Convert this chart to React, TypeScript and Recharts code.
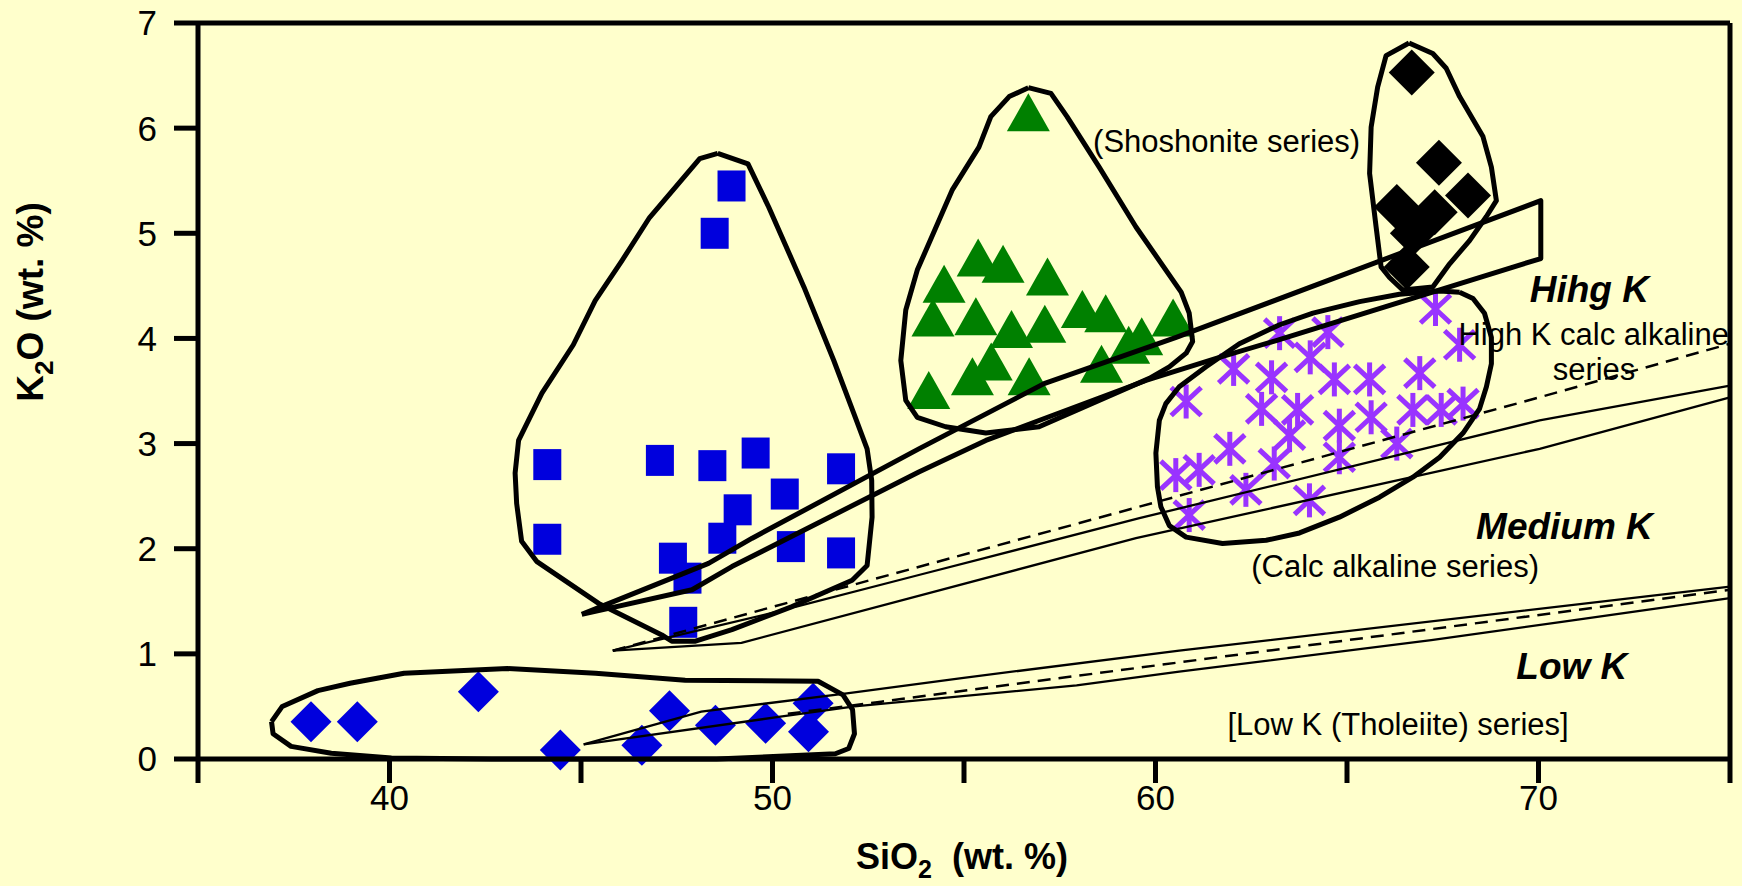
import React from 'react';
import { ScatterChart, Scatter, XAxis, YAxis, ReferenceLine } from 'recharts';

const W = 1742;
const H = 886;
const BG = '#FFFFCC';
const BLUE = '#0000DD';
const GREEN = '#008000';
const PURPLE = '#9933FF';
const BLACK = '#000000';

// axes
const xTicks = [35, 40, 45, 50, 55, 60, 65, 70, 75];
const xLabelled = [40, 50, 60, 70];
const yTicks = [0, 1, 2, 3, 4, 5, 6, 7];

// samples  [SiO2, K2O]
const blueSquares = [
  [48.93, 5.45], [48.49, 5.0], [44.12, 2.8], [47.06, 2.84], [48.43, 2.79], [49.56, 2.91],
  [51.79, 2.76], [50.32, 2.52], [49.09, 2.37], [44.12, 2.09], [48.69, 2.1], [50.48, 2.02],
  [51.79, 1.96], [47.4, 1.91], [47.78, 1.72], [47.67, 1.3],
];
const blueDiamonds = [
  [37.95, 0.355], [39.16, 0.355], [42.32, 0.64], [44.46, 0.086], [46.59, 0.13],
  [47.31, 0.46], [48.51, 0.32], [49.82, 0.34], [51.06, 0.53], [50.94, 0.26],
];
const greenTriangles = [
  [56.68, 6.15], [55.37, 4.77], [56.02, 4.71], [57.18, 4.59], [54.48, 4.52], [54.19, 4.2],
  [55.31, 4.21], [56.24, 4.09], [57.11, 4.14], [58.09, 4.28], [58.7, 4.24], [60.46, 4.2],
  [59.64, 4.02], [59.3, 3.94], [55.71, 3.78], [55.22, 3.64], [56.7, 3.64], [58.59, 3.76],
  [54.08, 3.51],
];
const blackDiamonds = [
  [66.69, 6.53], [67.4, 5.67], [68.16, 5.36], [66.3, 5.25], [67.29, 5.2], [66.72, 5.0], [66.56, 4.68],
];
const purpleStars = [
  [67.31, 4.28], [67.94, 3.94], [63.24, 4.05], [64.5, 4.06], [62.04, 3.71], [63.03, 3.63],
  [64.04, 3.82], [64.67, 3.61], [65.59, 3.61], [66.9, 3.67], [60.8, 3.4], [62.77, 3.33],
  [63.71, 3.32], [65.63, 3.25], [66.72, 3.32], [67.46, 3.32], [68.03, 3.38], [64.8, 3.17],
  [63.5, 3.08], [64.8, 2.87], [66.3, 3.0], [61.94, 2.95], [63.1, 2.81], [60.53, 2.7],
  [61.14, 2.75], [62.36, 2.56], [64.02, 2.46], [60.88, 2.32],
];

// field outlines (closed)
const squaresField = [
  [48.57, 5.76], [49.36, 5.66], [49.9, 5.25], [50.82, 4.49], [51.6, 3.79], [52.12, 3.29],
  [52.47, 2.95], [52.59, 2.65], [52.6, 2.3], [52.47, 1.84], [52.08, 1.7], [50.51, 1.45],
  [48.94, 1.23], [47.99, 1.12], [47.37, 1.12], [47.11, 1.18], [45.46, 1.48], [43.84, 1.88],
  [43.45, 2.07], [43.32, 2.43], [43.28, 2.72], [43.37, 3.03], [43.98, 3.48], [44.8, 3.94],
  [45.37, 4.36], [46.07, 4.74], [46.79, 5.15], [48.1, 5.71], [48.57, 5.76],
];
const trianglesField = [
  [56.68, 6.385], [57.27, 6.33], [57.69, 6.11], [58.53, 5.63], [59.49, 5.06], [60.67, 4.44],
  [60.88, 4.24], [60.97, 3.97], [60.8, 3.86], [60.36, 3.73], [59.84, 3.62], [56.96, 3.16],
  [55.57, 3.1], [54.52, 3.16], [53.78, 3.25], [53.48, 3.41], [53.35, 3.79], [53.48, 4.27],
  [53.78, 4.65], [54.69, 5.41], [55.39, 5.82], [55.7, 6.11], [56.18, 6.3], [56.68, 6.385],
];
const blackField = [
  [66.62, 6.81], [67.24, 6.71], [67.59, 6.57], [67.94, 6.3], [68.55, 5.92], [68.77, 5.63],
  [68.9, 5.31], [68.64, 5.16], [68.2, 4.93], [67.68, 4.71], [67.24, 4.49], [66.46, 4.46],
  [66.11, 4.58], [65.89, 4.68], [65.76, 5.06], [65.59, 5.57], [65.63, 6.01], [65.8, 6.39],
  [66.02, 6.69], [66.62, 6.81],
];
const starsField = [
  [67.94, 4.44], [68.29, 4.38], [68.59, 4.24], [68.77, 4.01], [68.77, 3.76], [68.64, 3.54],
  [68.46, 3.33], [68.03, 3.1], [67.42, 2.87], [66.72, 2.68], [65.85, 2.49], [64.8, 2.3],
  [63.76, 2.15], [62.89, 2.08], [61.75, 2.05], [60.8, 2.11], [60.36, 2.22], [60.14, 2.4],
  [60.05, 2.59], [60.01, 2.91], [60.1, 3.22], [60.27, 3.38], [60.62, 3.54], [61.32, 3.73],
  [62.19, 3.95], [63.24, 4.13], [64.11, 4.24], [65.33, 4.35], [66.37, 4.42], [67.42, 4.45],
  [67.94, 4.44],
];
const diamondsField = [
  [36.92, 0.355], [37.2, 0.5], [38.13, 0.65], [38.97, 0.72], [40.38, 0.815], [43.08, 0.86],
  [45.38, 0.815], [47.72, 0.75], [51.19, 0.74], [51.84, 0.61], [52.09, 0.47], [52.14, 0.24],
  [51.99, 0.1], [51.64, 0.05], [48.54, 0.0], [42.67, 0.0], [40.05, 0.01], [38.48, 0.054],
  [37.43, 0.12], [36.96, 0.24], [36.92, 0.355],
];
const shoshoniteWedge = [
  [45.02, 1.375], [48.33, 1.86], [49.47, 2.1], [53.82, 2.95], [57.09, 3.57], [60.54, 4.01],
  [70.06, 5.31], [70.06, 4.76], [63.15, 3.98], [61.67, 3.82], [59.75, 3.6], [55.57, 3.03],
  [53.82, 2.73], [48.94, 1.83], [47.9, 1.61], [45.02, 1.375],
];

// series boundaries
const highKUpper = [[45.83, 1.03], [49.94, 1.385], [53.82, 1.75], [59.58, 2.29], [70.03, 3.22], [75, 3.55]];
const highKLower = [[45.83, 1.03], [49.19, 1.105], [59.49, 2.1], [70.03, 2.95], [75, 3.44]];
const highKDashed = [[45.83, 1.03], [52.54, 1.7], [59.58, 2.4], [70.03, 3.44], [75, 3.95]];
const lowKUpper = [[45.07, 0.14], [48.14, 0.45], [51.94, 0.625], [54.94, 0.77], [60.62, 1.03], [75, 1.64]];
const lowKLower = [[45.07, 0.14], [50.16, 0.4], [52.14, 0.5], [57.94, 0.7], [60.62, 0.83], [67.2, 1.13], [70.61, 1.305], [75, 1.53]];
const lowKDashed = [[50.4, 0.43], [52.84, 0.545], [75, 1.61]];

// annotations
const annoText = [
  '(Shoshonite series)', 'Hihg K', 'High K calc alkaline', 'series',
  'Medium K', '(Calc alkaline series)', 'Low K', '[Low K (Tholeiite) series]',
];
const annoX = [58.37, 69.77, 67.91, 70.37, 68.37, 62.5, 69.42, 61.88];
const annoY = [5.776, 4.35, 3.94, 3.605, 2.09, 1.734, 0.758, 0.228];
const annoHeading = [false, true, false, false, true, false, true, false];

const pts = (a: number[][]) => a.map(([x, y]) => ({ x, y }));

const SquareShape = (p: any) => (
  <rect x={p.cx - 14} y={p.cy - 15.5} width={28} height={31} fill={BLUE} />
);
const makeDiamond = (r: number, fill: string) => (p: any) => (
  <path d={`M${p.cx},${p.cy - r}L${p.cx + r},${p.cy}L${p.cx},${p.cy + r}L${p.cx - r},${p.cy}Z`} fill={fill} />
);
const BlueDiamond = makeDiamond(20.5, BLUE);
const BlackDiamond = makeDiamond(23, BLACK);
const TriangleShape = (p: any) => (
  <path d={`M${p.cx},${p.cy - 19}L${p.cx + 21.5},${p.cy + 19}L${p.cx - 21.5},${p.cy + 19}Z`} fill={GREEN} />
);
const StarShape = (p: any) => {
  const { cx, cy } = p;
  return (
    <g stroke={PURPLE} strokeWidth={5}>
      <line x1={cx} y1={cy - 17} x2={cx} y2={cy + 17} />
      <line x1={cx - 15} y1={cy - 14} x2={cx + 15} y2={cy + 14} />
      <line x1={cx + 15} y1={cy - 14} x2={cx - 15} y2={cy + 14} />
    </g>
  );
};
const NoShape = () => <g />;

const XTitle = () => (
  <text x={962} y={869} textAnchor="middle" fontSize={36} fontWeight="bold" fill={BLACK} style={{ whiteSpace: 'pre' }}>
    SiO<tspan fontSize={25} dy={9}>2</tspan>
    <tspan dy={-9}>{'  (wt. %)'}</tspan>
  </text>
);
const YTitle = () => (
  <text transform="translate(43, 302) rotate(-90)" x={0} y={0} textAnchor="middle" fontSize={37} fontWeight="bold" fill={BLACK} style={{ whiteSpace: 'pre' }}>
    K<tspan fontSize={26} dy={10}>2</tspan>
    <tspan dy={-10}>{'O (wt. %)'}</tspan>
  </text>
);

const outlines = [squaresField, trianglesField, blackField, starsField, diamondsField, shoshoniteWedge];
const thinLines = [highKUpper, highKLower, lowKUpper, lowKLower];
const dashedLines = [highKDashed, lowKDashed];

export default function App() {
  return (
    <div
      style={{
        position: 'fixed', left: 0, top: 0, width: W, height: H, background: BG,
        fontFamily: '"Liberation Sans", Arial, sans-serif',
      }}
    >
      <ScatterChart width={W} height={H} margin={{ top: 23, right: 12, bottom: 0, left: 0 }}>
        <XAxis
          type="number" dataKey="x" domain={[35, 75]} ticks={xTicks} interval={0}
          tickFormatter={(v: number) => (xLabelled.includes(v) ? String(v) : '')}
          height={127} tickSize={24} tickMargin={2}
          axisLine={{ stroke: BLACK, strokeWidth: 5 }}
          tickLine={{ stroke: BLACK, strokeWidth: 5 }}
          tick={{ fill: BLACK, fontSize: 35 }}
          label={<XTitle />}
        />
        <YAxis
          type="number" dataKey="y" domain={[0, 7]} ticks={yTicks} interval={0}
          width={198} tickSize={24} tickMargin={17}
          axisLine={{ stroke: BLACK, strokeWidth: 5 }}
          tickLine={{ stroke: BLACK, strokeWidth: 5 }}
          tick={{ fill: BLACK, fontSize: 35 }}
          label={<YTitle />}
        />
        <ReferenceLine y={7} stroke={BLACK} strokeWidth={5} />
        <ReferenceLine x={75} stroke={BLACK} strokeWidth={5} />

        <Scatter data={pts(blueSquares)} shape={SquareShape} isAnimationActive={false} />
        <Scatter data={pts(blueDiamonds)} shape={BlueDiamond} isAnimationActive={false} />
        <Scatter data={pts(greenTriangles)} shape={TriangleShape} isAnimationActive={false} />
        <Scatter data={pts(blackDiamonds)} shape={BlackDiamond} isAnimationActive={false} />
        <Scatter data={pts(purpleStars)} shape={StarShape} isAnimationActive={false} />

        {thinLines.map((l, i) => (
          <Scatter key={'t' + i} data={pts(l)} shape={NoShape} lineType="joint" isAnimationActive={false}
            line={{ stroke: BLACK, strokeWidth: 2.3, fill: 'none' }} />
        ))}
        {dashedLines.map((l, i) => (
          <Scatter key={'d' + i} data={pts(l)} shape={NoShape} lineType="joint" isAnimationActive={false}
            line={{ stroke: BLACK, strokeWidth: 2.5, strokeDasharray: '13 8', fill: 'none' }} />
        ))}
        {outlines.map((l, i) => (
          <Scatter key={'o' + i} data={pts(l)} shape={NoShape} lineType="joint" isAnimationActive={false}
            line={{ stroke: BLACK, strokeWidth: 5, strokeLinejoin: 'round', fill: 'none' }} />
        ))}

        {annoText.map((t, i) => (
          <Scatter
            key={'a' + i}
            data={[{ x: annoX[i], y: annoY[i] }]}
            isAnimationActive={false}
            shape={(p: any) => (
              <text
                x={p.cx} y={p.cy} fill={BLACK}
                fontSize={annoHeading[i] ? 37 : 31}
                fontWeight={annoHeading[i] ? 'bold' : 'normal'}
                fontStyle={annoHeading[i] ? 'italic' : 'normal'}
              >
                {t}
              </text>
            )}
          />
        ))}
      </ScatterChart>
    </div>
  );
}
